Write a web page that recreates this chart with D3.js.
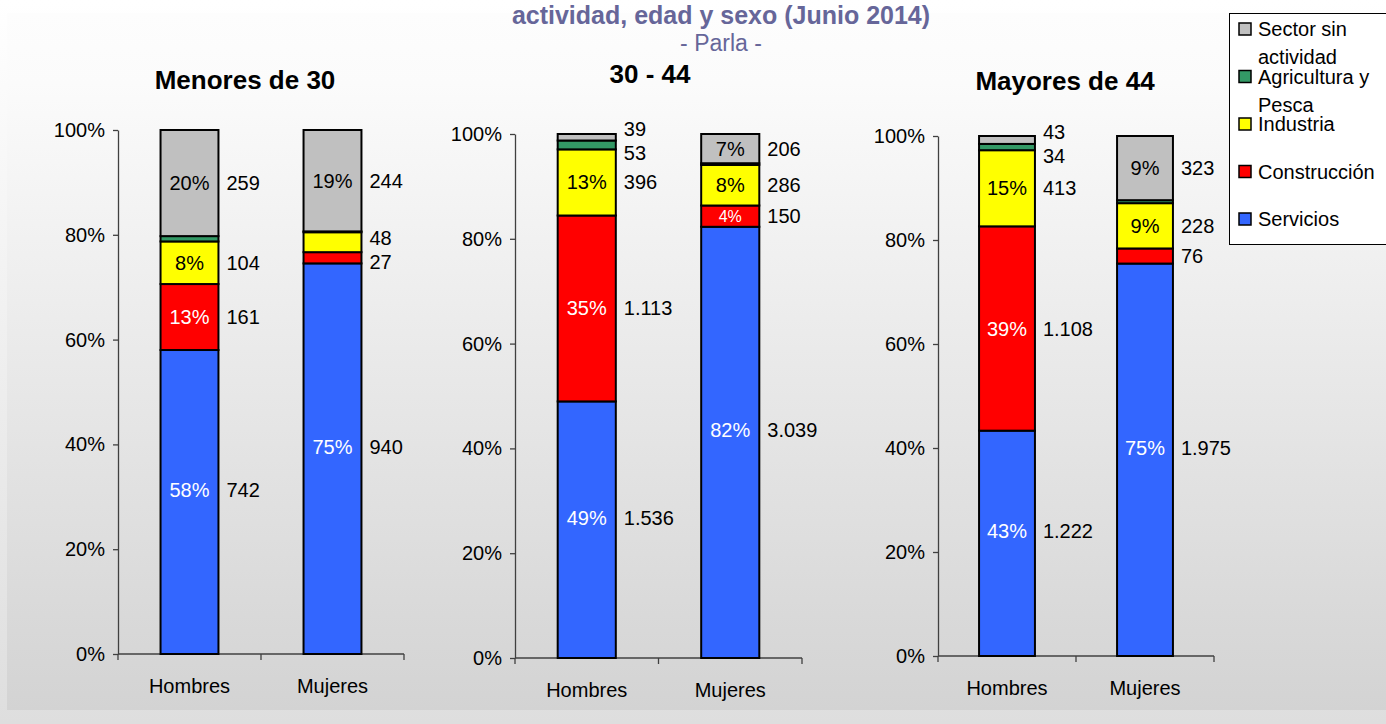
<!DOCTYPE html>
<html lang="es">
<head>
<meta charset="UTF-8">
<title>Afiliados por sector de actividad, edad y sexo (Junio 2014) - Parla</title>
<script src="https://d3js.org/d3.v7.min.js"></script>
<style>
    html, body { margin: 0; padding: 0; background: #fff; }
    svg { display: block; font-family: "Liberation Sans", Arial, sans-serif; }
    .tick text { font-size: 20px; fill: #000; }
    .axis path, .axis line { stroke: #404040; stroke-width: 1.3; }
</style>
</head>
<body>
<div id="chart"></div>
<script>
// ---- data ----
const categories = ["Hombres", "Mujeres"];
const sectors = ["Servicios", "Construcción", "Industria", "Agricultura y Pesca", "Sector sin actividad"];
const sectorColors = ["#3366ff", "#ff0000", "#ffff00", "#339966", "#c0c0c0"];
const groups = ["Menores de 30", "30 - 44", "Mayores de 44"];
const yTicks = [0, 0.2, 0.4, 0.6, 0.8, 1];

// counts, in sector order (Servicios ... Sector sin actividad)
const menores30Hombres = [742, 161, 104, 13, 259];
const menores30Mujeres = [940, 27, 48, 2, 244];
const de30a44Hombres = [1536, 1113, 396, 53, 39];
const de30a44Mujeres = [3039, 150, 286, 12, 206];
const mayores44Hombres = [1222, 1108, 413, 34, 43];
const mayores44Mujeres = [1975, 76, 228, 15, 323];

// percentage labels printed inside the bars (null = not printed)
const menores30HombresPct = [58, 13, 8, null, 20];
const menores30MujeresPct = [75, null, null, null, 19];
const de30a44HombresPct = [49, 35, 13, null, null];
const de30a44MujeresPct = [82, 4, 8, null, 7];
const mayores44HombresPct = [43, 39, 15, null, null];
const mayores44MujeresPct = [75, null, 9, null, 9];

// legend, top to bottom
const legendLines = [["Sector sin", "actividad"], ["Agricultura y", "Pesca"], ["Industria"], ["Construcción"], ["Servicios"]];
const legendColors = ["#c0c0c0", "#339966", "#ffff00", "#ff0000", "#3366ff"];

const W = 1386, H = 724;
const fmt = d3.formatLocale({decimal: ",", thousands: ".", grouping: [3], currency: ["", " €"]}).format(",d");

const svg = d3.select("#chart").append("svg")
    .attr("width", W)
    .attr("height", H);

// background gradients
const defs = svg.append("defs");
const g1 = defs.append("linearGradient").attr("id", "bgOuter").attr("x1", 0).attr("y1", 0).attr("x2", 0).attr("y2", 1);
g1.append("stop").attr("offset", "0").attr("stop-color", "#ffffff");
g1.append("stop").attr("offset", "1").attr("stop-color", "#dedede");
const g2 = defs.append("linearGradient").attr("id", "bgInner").attr("x1", 0).attr("y1", 0).attr("x2", 0).attr("y2", 1);
g2.append("stop").attr("offset", "0").attr("stop-color", "#fdfdfd");
g2.append("stop").attr("offset", "0.1").attr("stop-color", "#fbfbfb");
g2.append("stop").attr("offset", "1").attr("stop-color", "#d3d3d3");

svg.append("rect").attr("width", W).attr("height", H).attr("fill", "url(#bgOuter)");
svg.append("rect").attr("x", 7).attr("y", 13).attr("width", W - 7).attr("height", 697).attr("fill", "url(#bgInner)");

// title (its first line lies above the picture)
svg.append("text")
    .attr("x", 721).attr("y", 24)
    .attr("text-anchor", "middle")
    .style("font-size", "25px").style("font-weight", "bold")
    .attr("fill", "#666699")
    .text("actividad, edad y sexo (Junio 2014)");
svg.append("text")
    .attr("x", 721).attr("y", 51)
    .attr("text-anchor", "middle")
    .style("font-size", "23px")
    .attr("fill", "#666699")
    .text("- Parla -");

const panels = [
    {title: groups[0], values: [menores30Hombres, menores30Mujeres], pct: [menores30HombresPct, menores30MujeresPct],
     x0: 118, x1: 404, top: 130, bottom: 654, titleX: 245, titleY: 89},
    {title: groups[1], values: [de30a44Hombres, de30a44Mujeres], pct: [de30a44HombresPct, de30a44MujeresPct],
     x0: 515, x1: 802, top: 134, bottom: 658, titleX: 650, titleY: 83},
    {title: groups[2], values: [mayores44Hombres, mayores44Mujeres], pct: [mayores44HombresPct, mayores44MujeresPct],
     x0: 938, x1: 1214, top: 136, bottom: 656, titleX: 1065, titleY: 90}
];

panels.forEach(drawPanel);

function drawPanel(p) {
    const g = svg.append("g");

    const x = d3.scaleBand()
        .domain(categories)
        .range([p.x0, p.x1])
        .paddingInner(0.595)
        .paddingOuter(0.2975);

    const y = d3.scaleLinear()
        .domain([0, 1])
        .range([p.bottom, p.top]);

    const rows = categories.map((c, i) => {
        const r = {sex: c};
        sectors.forEach((s, j) => r[s] = p.values[i][j]);
        return r;
    });
    const series = d3.stack().keys(sectors).offset(d3.stackOffsetExpand)(rows);

    // panel title
    g.append("text")
        .attr("x", p.titleX).attr("y", p.titleY)
        .attr("text-anchor", "middle")
        .style("font-size", "26px").style("font-weight", "bold")
        .text(p.title);

    // y axis
    g.append("g")
        .attr("class", "axis")
        .attr("transform", `translate(${p.x0},0)`)
        .call(d3.axisLeft(y).tickValues(yTicks).tickFormat(d3.format(".0%")).tickSize(5).tickSizeOuter(0).tickPadding(8));

    // x axis line + boundary ticks
    g.append("line")
        .attr("x1", p.x0).attr("x2", p.x1)
        .attr("y1", y(0)).attr("y2", y(0))
        .attr("stroke", "#404040").attr("stroke-width", 1.3);
    d3.range(categories.length + 1).forEach(i => {
        const tx = x.range()[0] + i * x.step();
        g.append("line")
            .attr("x1", tx).attr("x2", tx)
            .attr("y1", y(0)).attr("y2", y(0) + 6)
            .attr("stroke", "#404040").attr("stroke-width", 1.3);
    });
    g.selectAll(".cat")
        .data(categories)
        .enter().append("text")
        .attr("x", d => x(d) + x.bandwidth() / 2)
        .attr("y", y(0) + 39)
        .attr("text-anchor", "middle")
        .style("font-size", "20px")
        .text(d => d);

    // bar segments
    series.forEach((s, j) => {
        g.selectAll(null)
            .data(s)
            .enter().append("rect")
            .attr("x", d => x(d.data.sex))
            .attr("width", x.bandwidth())
            .attr("y", d => y(d[1]))
            .attr("height", d => y(d[0]) - y(d[1]))
            .attr("fill", sectorColors[j])
            .attr("stroke", "#000")
            .attr("stroke-width", 2);
    });

    // labels
    categories.forEach((c, i) => {
        const counts = [];
        series.forEach((s, j) => {
            const seg = s[i];
            const h = y(seg[0]) - y(seg[1]);
            const yc = (y(seg[0]) + y(seg[1])) / 2 + (j === 0 ? -12 : 0);
            const pct = p.pct[i][j];
            if (pct != null) {
                g.append("text")
                    .attr("x", x(c) + x.bandwidth() / 2)
                    .attr("y", yc)
                    .attr("dy", "0.35em")
                    .attr("text-anchor", "middle")
                    .style("font-size", h < 24 ? "16px" : "20px")
                    .attr("fill", j <= 1 ? "#fff" : "#000")
                    .text(pct + "%");
            }
            if (p.values[i][j] >= 20) counts.push({v: p.values[i][j], y: yc});
        });

        // push apart count labels that would overlap
        counts.sort((a, b) => a.y - b.y);
        for (let it = 0; it < 30; it++) {
            for (let k = 0; k < counts.length - 1; k++) {
                const gap = counts[k + 1].y - counts[k].y;
                if (gap < 24) {
                    const sh = (24 - gap) / 2;
                    counts[k].y -= sh;
                    counts[k + 1].y += sh;
                }
            }
        }
        counts.forEach(d => {
            g.append("text")
                .attr("x", x(c) + x.bandwidth() + 8)
                .attr("y", d.y)
                .attr("dy", "0.35em")
                .style("font-size", "20px")
                .text(fmt(d.v));
        });
    });
}

// legend
const legend = svg.append("g");
legend.append("rect")
    .attr("x", 1229.5).attr("y", 13.5)
    .attr("width", 170).attr("height", 231)
    .attr("fill", "#fff").attr("stroke", "#000").attr("stroke-width", 1);
legendLines.forEach((lines, i) => {
    const cy = 29 + i * 47.5;
    legend.append("rect")
        .attr("x", 1239).attr("y", cy - 6)
        .attr("width", 12).attr("height", 12)
        .attr("fill", legendColors[i])
        .attr("stroke", "#000").attr("stroke-width", 1.5);
    lines.forEach((t, k) => {
        legend.append("text")
            .attr("x", 1258).attr("y", cy + 7 + k * 28)
            .style("font-size", "20px")
            .text(t);
    });
});
</script>
</body>
</html>
